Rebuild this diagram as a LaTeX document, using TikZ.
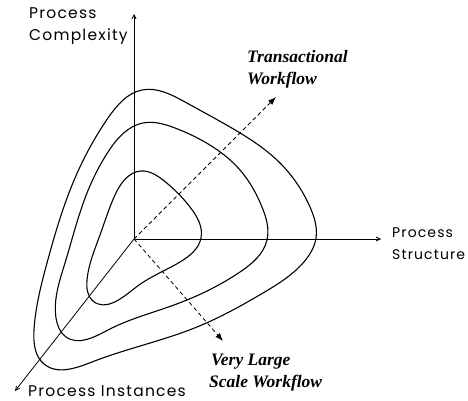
\documentclass[tikz,border=0pt]{standalone}
\usepackage{fontspec}
\setmainfont{Liberation Serif}
\newfontfamily\axisfont{Poppins}[LetterSpace=8]
\usetikzlibrary{arrows.meta,hobby}

\begin{document}
\begin{tikzpicture}[x=1pt, y=-1pt,
  axis/.style={line width=0.8pt, -{Straight Barb[length=4pt,width=4pt]}},
  loop/.style={line width=1.1pt},
  trend/.style={line width=0.8pt, dashed, dash pattern=on 4pt off 3pt,
                -{Latex[length=8pt,width=6pt]}},
  axislabel/.style={font=\axisfont\fontsize{15.5}{22}\selectfont,
                    align=left, anchor=base west, inner sep=0pt},
  trendlabel/.style={font=\bfseries\itshape\fontsize{17.5}{22}\selectfont,
                     align=left, anchor=base west, inner sep=0pt}
]
\useasboundingbox (0,0) rectangle (468,401);

% axes
\coordinate (o) at (134,239);
\coordinate (complexity) at (134,14);
\coordinate (structure) at (381,239);
\coordinate (instances) at (15,391);
\draw[axis] (o) -- (complexity);
\draw[axis] (o) -- (structure);
\draw[axis] (o) -- (instances);

% levels
\draw[loop] plot[closed hobby] coordinates {
  (142,90) (108,118) (75,178) (47,263) (34,330) (44,364) (92,362)
  (197,327) (263,293) (303,263) (316,238) (310,207) (280,163) (230,127)
  (185,102)};
\draw[loop] plot[closed hobby] coordinates {
  (143,123) (108,152) (87,193) (65,263) (56,318) (66,337) (108,330)
  (174,305) (240,272) (267,240) (262,207) (240,170) (213,147) (175,128)};
\draw[loop] plot[closed hobby] coordinates {
  (141,171) (115,195) (100,235) (87,280) (93,301) (135,288)
  (180,262) (201,238) (190,207) (163,180)};

% trends
\coordinate (toptrend) at (276,97);
\coordinate (bottomtrend) at (223,341);
\draw[trend] (o) -- (toptrend);
\draw[trend] (o) -- (bottomtrend);

% labels
\node[axislabel] (lcomplexity) at (29,41) {Process\\Complexity};
\node[axislabel, font=\axisfont\fontsize{14}{22}\selectfont]
  (lstructure) at (392,259) {Process\\Structure};
\node[axislabel] (linstances) at (28,396) {Process Instances};
\node[trendlabel] (ltransact) at (247,85) {Transactional\\Workflow};
\node[trendlabel] (llarge) at (209,387) {\hspace{2pt}Very Large\\Scale Workflow};
\end{tikzpicture}
\end{document}
